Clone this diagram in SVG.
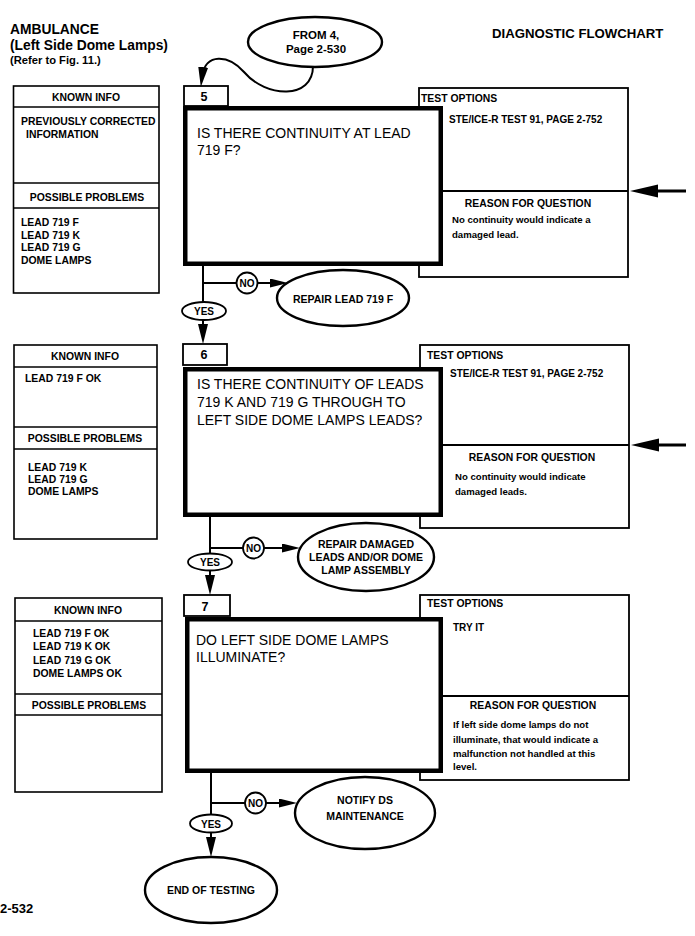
<svg xmlns="http://www.w3.org/2000/svg" width="695" height="936" viewBox="0 0 695 936">
<style>
text{font-family:"Liberation Sans",Arial,Helvetica,sans-serif;fill:#000}
.b{font-weight:bold;font-size:10.4px}
.s{font-weight:bold;font-size:10px}
.q{font-size:14px}
.e{font-weight:bold;font-size:10.5px}
.h{font-weight:bold;font-size:13.8px}
.m{text-anchor:middle}
.box{fill:#fff;stroke:#000;stroke-width:1.6}
.main{fill:#fff;stroke:#000;stroke-width:4.5}
.num{fill:#fff;stroke:#000;stroke-width:1.8}
.ell{fill:#fff;stroke:#000;stroke-width:2.4}
.lbl{fill:#fff;stroke:#000;stroke-width:1.8}
.conn{fill:none;stroke:#000;stroke-width:2}
.div{stroke:#000;stroke-width:1.6}
.side{stroke:#000;stroke-width:3}
</style>
<defs>
<marker id="down" viewBox="0 0 20 10" markerWidth="20" markerHeight="10" refX="10" refY="5" orient="auto" markerUnits="userSpaceOnUse"><path d="M0,0 L20,5 L0,10 z" fill="#000"/></marker>
<marker id="right" viewBox="0 0 18 9" markerWidth="18" markerHeight="9" refX="9" refY="4.5" orient="auto" markerUnits="userSpaceOnUse"><path d="M0,0 L18,4.5 L0,9 z" fill="#000"/></marker>
</defs>

<g id="header">
<text class="h" x="10" y="34">AMBULANCE</text>
<text class="h" x="10" y="50">(Left Side Dome Lamps)</text>
<text x="10" y="64" style="font-weight:bold;font-size:11.2px">(Refer to  Fig. 11.)</text>
<text class="h" x="492" y="38" style="font-size:13.2px">DIAGNOSTIC FLOWCHART</text>
<text x="0" y="913" style="font-weight:bold;font-size:13px">2-532</text>
</g>

<g id="from4">
<ellipse class="ell" cx="315" cy="42" rx="67" ry="25"/>
<text class="e m" x="316" y="39" style="font-size:11.5px">FROM 4,</text>
<text class="e m" x="316" y="53" style="font-size:11.5px">Page 2-530</text>
</g>

<!-- Block 5 -->
<g id="known5">
<rect class="box" x="13.5" y="86" width="145.5" height="207"/>
<line class="div" x1="13.5" y1="107" x2="159" y2="107"/>
<line class="div" x1="13.5" y1="183" x2="159" y2="183"/>
<line class="div" x1="13.5" y1="208" x2="159" y2="208"/>
<text class="b m" x="86" y="101">KNOWN INFO</text>
<text class="b" x="21" y="125">PREVIOUSLY CORRECTED</text>
<text class="b" x="26" y="138">INFORMATION</text>
<text class="b m" x="87" y="201">POSSIBLE PROBLEMS</text>
<text class="b" x="21" y="225.5">LEAD 719 F</text>
<text class="b" x="21" y="238.5">LEAD 719 K</text>
<text class="b" x="21" y="251">LEAD 719 G</text>
<text class="b" x="21" y="264">DOME LAMPS</text>
</g>
<g id="test5">
<rect class="box" x="419" y="88" width="209" height="189" style="stroke-width:1.8"/>
<line class="div" x1="443" y1="191" x2="628" y2="191" style="stroke-width:2"/>
<text class="b" x="421" y="102">TEST OPTIONS</text>
<text class="s" x="449" y="123">STE/ICE-R TEST 91, PAGE 2-752</text>
<text class="b m" x="528" y="207">REASON FOR QUESTION</text>
<text class="s" x="452" y="223" style="font-size:9.6px">No continuity would indicate a</text>
<text class="s" x="452" y="238" style="font-size:9.6px">damaged lead.</text>
</g>
<g id="q5">
<rect class="main" x="185.25" y="108.25" width="255.5" height="155.5"/>
<rect class="num" x="184" y="86" width="44" height="20"/>
<text class="m" x="204" y="101" style="font-weight:bold;font-size:12.5px">5</text>
<text class="q" x="197" y="138">IS THERE CONTINUITY AT LEAD</text>
<text class="q" x="197" y="155">719 F?</text>
</g>
<g id="repair5">
<ellipse class="ell" cx="343" cy="298" rx="66" ry="28"/>
<text class="e m" x="343" y="303">REPAIR LEAD 719 F</text>
</g>

<!-- Block 6 -->
<g id="known6">
<rect class="box" x="14" y="345" width="143" height="194"/>
<line class="div" x1="14" y1="367" x2="157" y2="367"/>
<line class="div" x1="14" y1="427" x2="157" y2="427"/>
<line class="div" x1="14" y1="449" x2="157" y2="449"/>
<text class="b m" x="85" y="360">KNOWN INFO</text>
<text class="b" x="25" y="382">LEAD 719 F OK</text>
<text class="b m" x="85" y="442">POSSIBLE PROBLEMS</text>
<text class="b" x="28" y="471">LEAD 719 K</text>
<text class="b" x="28" y="483">LEAD 719 G</text>
<text class="b" x="28" y="495">DOME LAMPS</text>
</g>
<g id="test6">
<rect class="box" x="420" y="345" width="209" height="183" style="stroke-width:1.8"/>
<line class="div" x1="443" y1="445" x2="629" y2="445" style="stroke-width:2"/>
<text class="b" x="427" y="359">TEST OPTIONS</text>
<text class="s" x="450" y="377">STE/ICE-R TEST 91, PAGE 2-752</text>
<text class="b m" x="532" y="461">REASON FOR QUESTION</text>
<text class="s" x="455" y="480" style="font-size:9.6px">No continuity would indicate</text>
<text class="s" x="455" y="495" style="font-size:9.6px">damaged leads.</text>
</g>
<g id="q6">
<rect class="main" x="185.25" y="369.25" width="255.5" height="145.5"/>
<rect class="num" x="183" y="344" width="44" height="21"/>
<text class="m" x="204" y="359" style="font-weight:bold;font-size:12.5px">6</text>
<text class="q" x="197" y="389">IS THERE CONTINUITY OF LEADS</text>
<text class="q" x="197" y="407">719 K AND 719 G THROUGH TO</text>
<text class="q" x="197" y="425">LEFT SIDE DOME LAMPS LEADS?</text>
</g>
<g id="repair6">
<ellipse class="ell" cx="366" cy="557" rx="68" ry="34"/>
<text class="e m" x="366" y="548">REPAIR DAMAGED</text>
<text class="e m" x="366" y="561">LEADS AND/OR DOME</text>
<text class="e m" x="366" y="574">LAMP ASSEMBLY</text>
</g>

<!-- Block 7 -->
<g id="known7">
<rect class="box" x="15" y="598" width="147" height="194"/>
<line class="div" x1="15" y1="621" x2="162" y2="621"/>
<line class="div" x1="15" y1="694" x2="162" y2="694"/>
<line class="div" x1="15" y1="715" x2="162" y2="715"/>
<text class="b m" x="88" y="614">KNOWN INFO</text>
<text class="b" x="33" y="637">LEAD 719 F OK</text>
<text class="b" x="33" y="650">LEAD 719 K OK</text>
<text class="b" x="33" y="663.5">LEAD 719 G OK</text>
<text class="b" x="33" y="677">DOME LAMPS OK</text>
<text class="b m" x="89" y="709">POSSIBLE PROBLEMS</text>
</g>
<g id="test7">
<rect class="box" x="420" y="595" width="209" height="185" style="stroke-width:1.8"/>
<line class="div" x1="443" y1="696" x2="629" y2="696" style="stroke-width:2"/>
<text class="b" x="427" y="607">TEST OPTIONS</text>
<text class="s" x="453" y="631">TRY IT</text>
<text class="b m" x="533" y="709">REASON FOR QUESTION</text>
<text class="s" x="453" y="728" style="font-size:9.6px">If left side dome lamps do not</text>
<text class="s" x="453" y="743" style="font-size:9.6px">illuminate, that would indicate a</text>
<text class="s" x="453" y="757" style="font-size:9.6px">malfunction not handled at this</text>
<text class="s" x="453" y="770" style="font-size:9.6px">level.</text>
</g>
<g id="q7">
<rect class="main" x="187.25" y="619.25" width="253.5" height="151.5"/>
<rect class="num" x="184" y="595" width="46" height="21"/>
<text class="m" x="205" y="611" style="font-weight:bold;font-size:12.5px">7</text>
<text class="q" x="196" y="645">DO LEFT SIDE DOME LAMPS</text>
<text class="q" x="196" y="662">ILLUMINATE?</text>
</g>
<g id="notify7">
<ellipse class="ell" cx="365" cy="813" rx="70" ry="36"/>
<text class="e m" x="365" y="804">NOTIFY DS</text>
<text class="e m" x="365" y="820">MAINTENANCE</text>
</g>
<g id="end">
<ellipse class="ell" cx="211" cy="890" rx="66" ry="33"/>
<text class="e m" x="211" y="894">END OF TESTING</text>
</g>

<g id="connectors">
<path class="conn" d="M313,66 C313,100 266,98 244,72 C229,55 205,52 202,77" marker-end="url(#down)"/>
<!-- block 5 -->
<line class="conn" x1="203" y1="266" x2="203" y2="303"/>
<line class="conn" x1="203" y1="283" x2="237" y2="283"/>
<line class="conn" x1="258" y1="283" x2="279" y2="283" marker-end="url(#right)"/>
<line class="conn" x1="203" y1="320" x2="203" y2="334" marker-end="url(#down)"/>
<!-- block 6 -->
<line class="conn" x1="210" y1="517" x2="210" y2="555"/>
<line class="conn" x1="210" y1="548" x2="243" y2="548"/>
<line class="conn" x1="264" y1="548" x2="291" y2="548" marker-end="url(#right)"/>
<line class="conn" x1="210" y1="570" x2="210" y2="585" marker-end="url(#down)"/>
<!-- block 7 -->
<line class="conn" x1="211" y1="773" x2="211" y2="815"/>
<line class="conn" x1="211" y1="803" x2="245" y2="803"/>
<line class="conn" x1="266" y1="803" x2="288" y2="803" marker-end="url(#right)"/>
<line class="conn" x1="211" y1="832" x2="211" y2="847" marker-end="url(#down)"/>
<!-- side arrows -->
<line class="side" x1="656" y1="191" x2="686" y2="191"/>
<polygon points="630,191 658,184.5 658,197.5" fill="#000"/>
<line class="side" x1="656" y1="445" x2="686" y2="445"/>
<polygon points="631,445 659,438.5 659,451.5" fill="#000"/>
</g>

<g id="labels">
<circle class="lbl" cx="247" cy="283" r="10.5"/>
<text class="s m" x="247" y="287">NO</text>
<ellipse class="lbl" cx="204" cy="311" rx="22" ry="9"/>
<text class="s m" x="204" y="315">YES</text>
<circle class="lbl" cx="253.5" cy="548" r="10.5"/>
<text class="s m" x="253.5" y="552">NO</text>
<ellipse class="lbl" cx="210" cy="562" rx="22" ry="8.5"/>
<text class="s m" x="210" y="566">YES</text>
<circle class="lbl" cx="255.5" cy="803" r="10.5"/>
<text class="s m" x="255.5" y="807">NO</text>
<ellipse class="lbl" cx="211" cy="823.5" rx="21" ry="9"/>
<text class="s m" x="211" y="827.5">YES</text>
</g>
</svg>
